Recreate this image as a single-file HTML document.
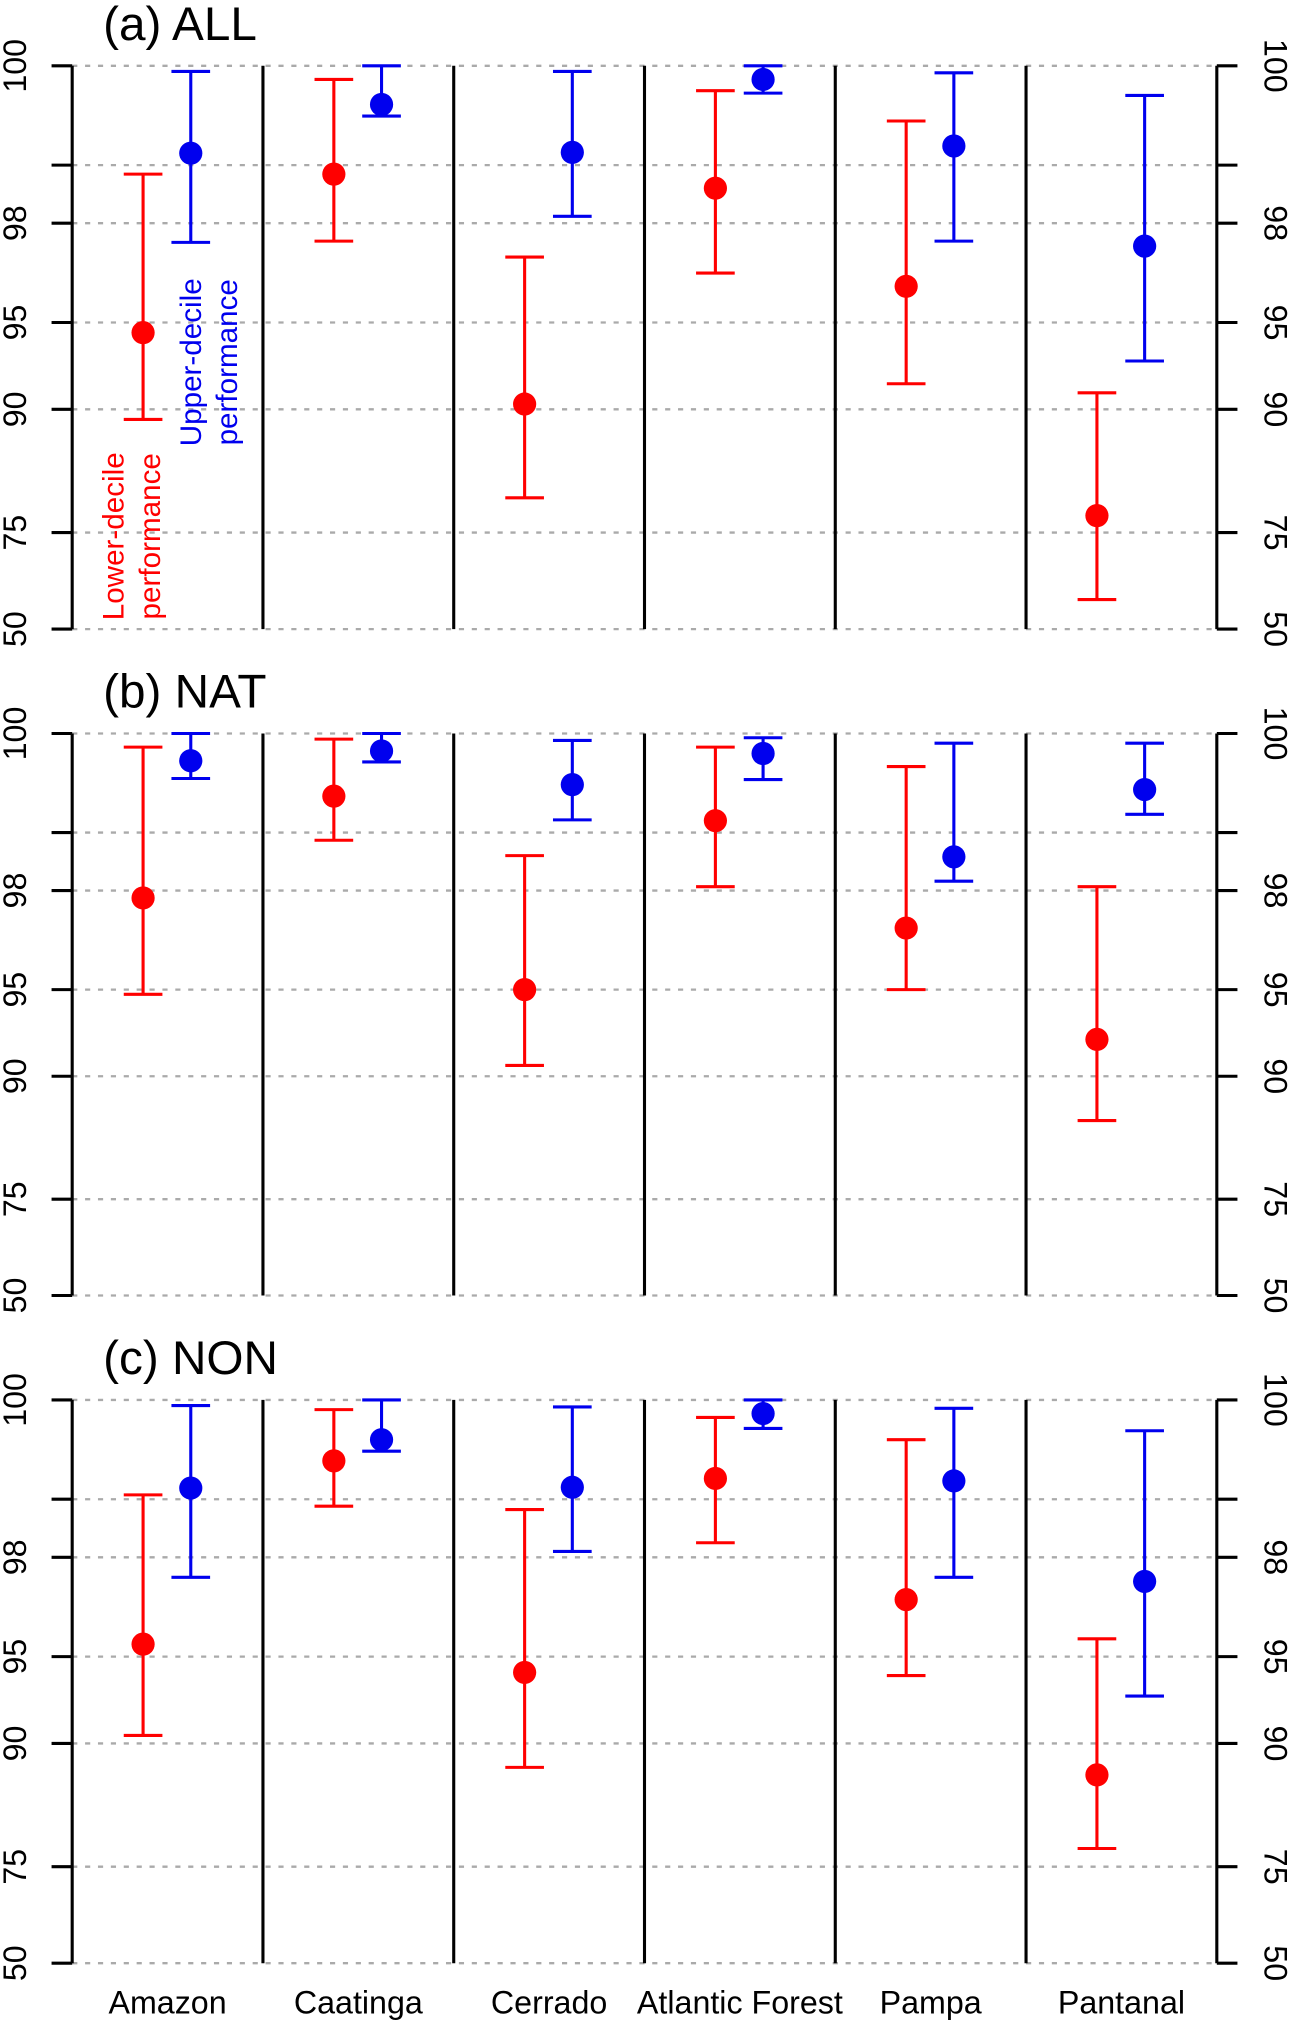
<!DOCTYPE html>
<html><head><meta charset="utf-8"><style>
html,body{margin:0;padding:0;background:#fff}
svg{display:block}
text{font-family:"Liberation Sans",sans-serif}
</style></head><body>
<svg id="chart" width="1289" height="2020" viewBox="0 0 1000 1567" xmlns="http://www.w3.org/2000/svg"></svg>
<script>
const categories = ["Amazon","Caatinga","Cerrado","Atlantic Forest","Pampa","Pantanal"];
const panelTitles = ["(a) ALL","(b) NAT","(c) NON"];
const tickValues = [50,75,90,95,98,99,100];
const tickLabels = ["50","75","90","95","98","","100"];
// [point, lower, upper] per category
const lowA = [[94.56,89.2,98.87],[98.87,97.6,99.9],[90.4,80.6,97.2],[98.65,96.75,99.81],[96.34,91.8,99.53],[77.9,59.5,91.2]];
const upA  = [[99.16,97.57,99.96],[99.69,99.58,100],[99.17,98.14,99.96],[99.9,99.79,100],[99.25,97.6,99.95],[97.48,93.15,99.77]];
const lowB = [[97.84,94.8,99.9],[99.45,98.89,99.96],[95.0,90.8,98.65],[99.16,98.08,99.9],[97.1,95.0,99.74],[92.5,86.0,98.08]];
const upB  = [[99.79,99.63,100],[99.87,99.78,100],[99.57,99.17,99.95],[99.85,99.62,99.97],[98.63,98.19,99.93],[99.52,99.24,99.93]];
const lowC = [[95.5,90.6,99.06],[99.47,98.9,99.93],[94.3,88.0,98.85],[99.27,98.29,99.87],[96.97,94.15,99.68],[87.3,78.1,95.7]];
const upC  = [[99.15,97.55,99.96],[99.68,99.57,100],[99.16,98.12,99.95],[99.9,99.78,100],[99.24,97.55,99.94],[97.45,93.1,99.76]];
const lowSeries=[lowA,lowB,lowC], upSeries=[upA,upB,upC];

const NS="http://www.w3.org/2000/svg";
const svg=document.getElementById('chart');
function mk(tag,attrs,parent){const e=document.createElementNS(NS,tag);for(const k in attrs)e.setAttribute(k,attrs[k]);(parent||svg).appendChild(e);return e;}
const X0=56,X1=944,GW=(X1-X0)/6;
const panelTops=[51,569,1086], panelBots=[488,1005,1523];
function f(v){return -Math.log(101-v);}
function yScale(p,v){const a=f(50),b=f(100);return panelBots[p]-(f(v)-a)/(b-a)*(panelBots[p]-panelTops[p]);}
function xRed(i){return X0+GW*i+55;}
function xBlue(i){return X0+GW*i+92;}

for(let p=0;p<3;p++){
  const g=mk('g',{});
  
  
  const t=mk('text',{x:80,y:panelTops[p]-20,'font-size':37},g);
  
  
  t.textContent=panelTitles[p];
  tickValues.forEach((v,k)=>{
    const y=yScale(p,v);
    const gl=mk('line',{x1:X0,x2:X1,y1:y,y2:y,stroke:'#aaa','stroke-width':1.8,'stroke-dasharray':'4,6'},g);
    
    
    mk('line',{x1:X0-16,x2:X0,y1:y,y2:y,stroke:'#000','stroke-width':2.4},g);
    mk('line',{x1:X1,x2:X1+16,y1:y,y2:y,stroke:'#000','stroke-width':2.4},g);
    if(tickLabels[k]){
      const l=mk('text',{x:0,y:0,'font-size':25,'text-anchor':'middle',transform:`translate(20,${y}) rotate(-90)`},g);
      
      
      l.textContent=tickLabels[k];
      const r=mk('text',{x:0,y:0,'font-size':25,'text-anchor':'middle',transform:`translate(981,${y}) rotate(90)`},g);
      
      
      r.textContent=tickLabels[k];
    }
  });
  for(let i=0;i<=6;i++){
    const x=X0+GW*i;
    const vl=mk('line',{x1:x,x2:x,y1:panelTops[p],y2:panelBots[p],stroke:'#000','stroke-width':2.4},g);
    
    
  }
  [[lowSeries[p],xRed,'#ff0000','lower-decile'],[upSeries[p],xBlue,'#0000ee','upper-decile']].forEach(([ser,xf,col,nm])=>{
    ser.forEach((d,i)=>{
      const x=xf(i),yp=yScale(p,d[0]),yl=yScale(p,d[1]),yu=yScale(p,d[2]);
      const eg=mk('g',{stroke:col,'stroke-width':2.4},g);
      
      
      mk('line',{x1:x,x2:x,y1:yl,y2:yu},eg);
      mk('line',{x1:x-15,x2:x+15,y1:yl,y2:yl},eg);
      mk('line',{x1:x-15,x2:x+15,y1:yu,y2:yu},eg);
      const c=mk('circle',{cx:x,cy:yp,r:9,fill:col,stroke:'none'},g);
      
      
    });
  });
}
categories.forEach((c,i)=>{
  const t=mk('text',{x:X0+GW*i+GW/2,y:1562,'font-size':25,'text-anchor':'middle'});
  
  
  t.textContent=c;
});
function rotText(lines,cx,cy,col,name){
  const t=mk('text',{x:0,y:0,'font-size':23,fill:col,'text-anchor':'middle',transform:`translate(${cx},${cy}) rotate(-90)`});
  
  
  lines.forEach((s,k)=>{const ts=mk('tspan',{x:0,dy:k?28:0},t);ts.textContent=s;});
}
rotText(["Lower-decile","performance"],96,416,'#ff0000','lower-decile-annotation');
rotText(["Upper-decile","performance"],156,281,'#0000ee','upper-decile-annotation');
</script>
</body></html>
